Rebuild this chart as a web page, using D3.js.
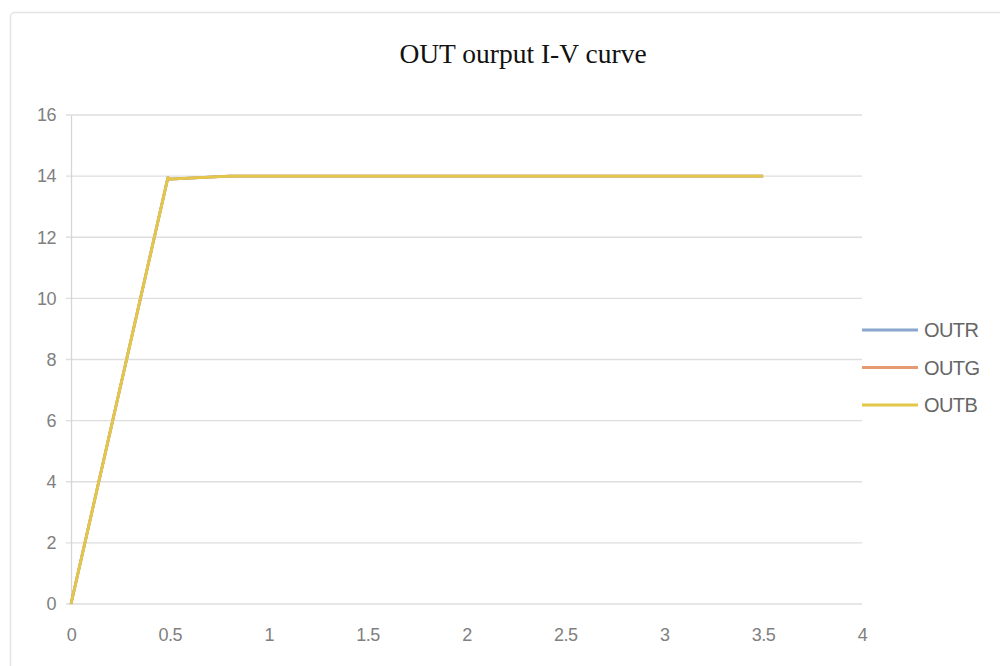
<!DOCTYPE html>
<html>
<head>
<meta charset="utf-8">
<style>
  body { margin: 0; background: #fff; }
  .chartContainer { width: 1000px; height: 666px; }
</style>
</head>
<body>
<div class="chartContainer"></div>

<script src="https://d3js.org/d3.v7.min.js"></script>
<script>
    // data (x = V, y = I)
    const seriesNames = ['OUTR', 'OUTG', 'OUTB'];
    const seriesColors = ['#8aa6cc', '#e59a72', '#e3c748'];
    const xValues = [0, 0.49, 0.5, 0.8, 3.5];
    const outR = [0, 13.95, 13.9, 14, 14];
    const outG = [0, 13.95, 13.9, 14, 14];
    const outB = [0, 13.95, 13.9, 14, 14];
    const xTicks = [0, 0.5, 1, 1.5, 2, 2.5, 3, 3.5, 4];
    const yTicks = [0, 2, 4, 6, 8, 10, 12, 14, 16];

    const series = [outR, outG, outB].map((vals, i) => ({
        name: seriesNames[i],
        color: seriesColors[i],
        points: vals.map((v, j) => ({x: xValues[j], y: v}))
    }));

    const svg = d3.select('.chartContainer')
                  .append('svg')
                  .attr('width', 1000)
                  .attr('height', 666);

    // chart frame
    svg.append('rect')
       .attr('x', 10.5).attr('y', 12.5)
       .attr('width', 1000).attr('height', 700)
       .attr('rx', 4)
       .style('fill', 'none')
       .style('stroke', '#e4e4e4')
       .style('stroke-width', 1.5);

    // title
    svg.append('text')
       .attr('x', 523).attr('y', 63)
       .attr('text-anchor', 'middle')
       .style('font-family', '"Liberation Serif", "Times New Roman", serif')
       .style('font-size', '27.5px')
       .style('fill', '#111')
       .text('OUT ourput I-V curve');

    const x = d3.scaleLinear().domain([0, 4]).range([71, 862]);
    const y = d3.scaleLinear().domain([0, 16]).range([604, 115]);

    // grid
    svg.append('g')
       .selectAll('line')
       .data(yTicks)
       .enter()
       .append('line')
       .attr('x1', x(0) - 5).attr('x2', x(4))
       .attr('y1', d => y(d)).attr('y2', d => y(d))
       .style('stroke', '#dedede')
       .style('stroke-width', 1.3);

    // y axis
    const yAxis = svg.append('g')
                     .attr('transform', `translate(${x(0)},0)`)
                     .call(d3.axisLeft(y).tickValues(yTicks).tickSize(0).tickPadding(15));
    yAxis.select('.domain').style('stroke', '#d6d6d6').style('stroke-width', 1.3);

    // x axis
    const xAxis = svg.append('g')
                     .attr('transform', `translate(0,${y(0)})`)
                     .call(d3.axisBottom(x).tickValues(xTicks).tickSize(0).tickPadding(24)
                           .tickFormat(d3.format('')));
    xAxis.select('.domain').remove();

    svg.selectAll('.tick text')
       .style('font-family', '"Liberation Sans", Arial, sans-serif')
       .style('font-size', '18px')
       .style('letter-spacing', '-0.5px')
       .style('fill', '#808080');

    // lines
    const line = d3.line().x(d => x(d.x)).y(d => y(d.y));
    svg.append('g')
       .selectAll('path')
       .data(series)
       .enter()
       .append('path')
       .attr('d', d => line(d.points))
       .style('fill', 'none')
       .style('stroke', d => d.color)
       .style('stroke-width', 2.8)
       .style('stroke-linejoin', 'round');

    // legend
    const legend = svg.append('g')
                      .selectAll('g')
                      .data(series)
                      .enter()
                      .append('g')
                      .attr('transform', (d, i) => `translate(862,${330 + i * 37.5})`);
    legend.append('line')
          .attr('x1', 0).attr('x2', 56)
          .style('stroke', d => d.color)
          .style('stroke-width', 2.8);
    legend.append('text')
          .attr('x', 62).attr('y', 0)
          .attr('dy', '0.35em')
          .style('font-family', '"Liberation Sans", Arial, sans-serif')
          .style('font-size', '20px')
          .style('letter-spacing', '-0.6px')
          .style('fill', '#666')
          .text(d => d.name);
</script>
</body>
</html>
